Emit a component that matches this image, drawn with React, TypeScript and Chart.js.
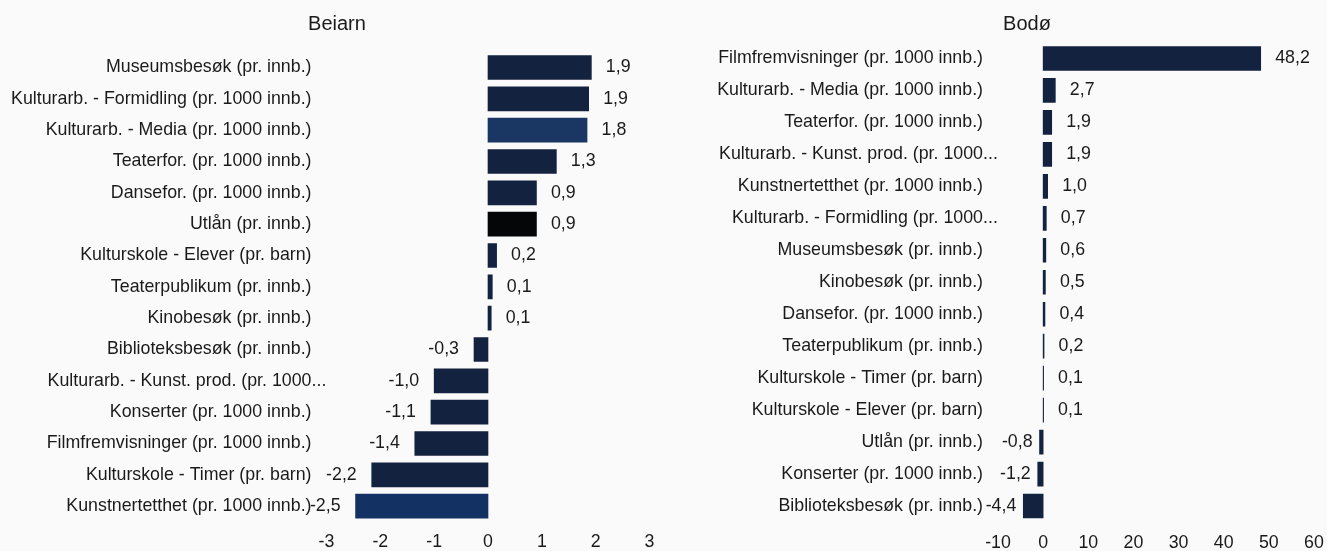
import React, { useEffect, useRef } from "react";
import { Chart, registerables } from "chart.js";

Chart.register(...registerables);

// ---------- DATA ----------
const beiarnTitle = "Beiarn";
const beiarnCategories = [
  "Museumsbesøk (pr. innb.)",
  "Kulturarb. - Formidling (pr. 1000 innb.)",
  "Kulturarb. - Media (pr. 1000 innb.)",
  "Teaterfor. (pr. 1000 innb.)",
  "Dansefor. (pr. 1000 innb.)",
  "Utlån (pr. innb.)",
  "Kulturskole - Elever (pr. barn)",
  "Teaterpublikum (pr. innb.)",
  "Kinobesøk (pr. innb.)",
  "Biblioteksbesøk (pr. innb.)",
  "Kulturarb. - Kunst. prod. (pr. 1000...",
  "Konserter (pr. 1000 innb.)",
  "Filmfremvisninger (pr. 1000 innb.)",
  "Kulturskole - Timer (pr. barn)",
  "Kunstnertetthet (pr. 1000 innb.)",
];
const beiarnValues = [1.92, 1.87, 1.84, 1.27, 0.9, 0.9, 0.16, 0.08, 0.06, -0.26, -1.0, -1.06, -1.36, -2.16, -2.46];
const beiarnTicks = [-3, -2, -1, 0, 1, 2, 3];

const bodoTitle = "Bodø";
const bodoCategories = [
  "Filmfremvisninger (pr. 1000 innb.)",
  "Kulturarb. - Media (pr. 1000 innb.)",
  "Teaterfor. (pr. 1000 innb.)",
  "Kulturarb. - Kunst. prod. (pr. 1000...",
  "Kunstnertetthet (pr. 1000 innb.)",
  "Kulturarb. - Formidling (pr. 1000...",
  "Museumsbesøk (pr. innb.)",
  "Kinobesøk (pr. innb.)",
  "Dansefor. (pr. 1000 innb.)",
  "Teaterpublikum (pr. innb.)",
  "Kulturskole - Timer (pr. barn)",
  "Kulturskole - Elever (pr. barn)",
  "Utlån (pr. innb.)",
  "Konserter (pr. 1000 innb.)",
  "Biblioteksbesøk (pr. innb.)",
];
const bodoValues = [48.2, 2.7, 1.9, 1.9, 1.0, 0.7, 0.6, 0.5, 0.4, 0.2, 0.1, 0.1, -0.8, -1.2, -4.4];
const bodoTicks = [-10, 0, 10, 20, 30, 40, 50, 60];

// ---------- STYLE ----------
const FONT_FAMILY = '"Liberation Sans", Arial, sans-serif';
const FONT_SIZE = 17.8;
const TEXT_COLOR = "#1a1a1a";
const BAR_COLOR = "#13223f";
const BG = "#fafafb";
const Y_TICK_PAD = 15;

const beiarnBarColors = beiarnCategories.map((c) => {
  if (c.startsWith("Utlån")) return "#050608";
  if (c.startsWith("Kulturarb. - Media")) return "#1a3763";
  if (c.startsWith("Kunstnertetthet")) return "#143164";
  return BAR_COLOR;
});
const bodoBarColors = bodoCategories.map(() => BAR_COLOR);

const fmt = (v: number) => v.toFixed(1).replace(".", ",");

function makeValueLabelPlugin(posGap: number, negGap: number) {
  return {
    id: "valueLabels",
    afterDatasetsDraw(chart: any) {
      const ctx = chart.ctx;
      const meta = chart.getDatasetMeta(0);
      const data = chart.data.datasets[0].data as number[];
      ctx.save();
      ctx.font = `${FONT_SIZE}px ${FONT_FAMILY}`;
      ctx.fillStyle = TEXT_COLOR;
      ctx.textBaseline = "middle";
      meta.data.forEach((bar: any, i: number) => {
        const v = data[i];
        const { x, y } = bar.getProps(["x", "y"], true);
        const text = fmt(v);
        if (v >= 0) {
          ctx.textAlign = "left";
          ctx.fillText(text, x + posGap, y);
        } else {
          ctx.textAlign = "right";
          ctx.fillText(text, x - negGap, y);
        }
      });
      // overflowing ellipsis of truncated category labels
      const yScale = chart.scales.y;
      ctx.textAlign = "left";
      (chart.data.labels as string[]).forEach((lab, i) => {
        if (lab.endsWith("...")) {
          ctx.fillText("...", yScale.right - Y_TICK_PAD, yScale.getPixelForValue(i));
        }
      });
      ctx.restore();
    },
  };
}

interface PanelProps {
  title: string;
  categories: string[];
  values: number[];
  colors: string[];
  ticks: number[];
  width: number;
  height: number;
  yWidth: number;
  rightWidth: number;
  titlePadBottom: number;
  xHeight: number;
  posGap: number;
  negGap: number;
}

function Panel(p: PanelProps) {
  const ref = useRef<HTMLCanvasElement | null>(null);
  useEffect(() => {
    if (!ref.current) return;
    const chart = new Chart(ref.current, {
      type: "bar",
      data: {
        labels: p.categories,
        datasets: [
          {
            data: p.values,
            backgroundColor: p.colors,
            borderWidth: 0,
            barThickness: 24,
          },
        ],
      },
      options: {
        indexAxis: "y",
        responsive: false,
        maintainAspectRatio: false,
        animation: false,
        layout: { padding: 0 },
        plugins: {
          legend: { display: false },
          tooltip: { enabled: false },
          title: {
            display: true,
            text: p.title,
            color: TEXT_COLOR,
            font: { family: FONT_FAMILY, size: 20, weight: "normal" as any, lineHeight: 1.2 },
            padding: { top: 12, bottom: p.titlePadBottom },
          },
        },
        scales: {
          x: {
            type: "linear",
            min: p.ticks[0],
            max: p.ticks[p.ticks.length - 1],
            grid: { display: false, drawTicks: false },
            border: { display: false },
            afterBuildTicks: (scale: any) => {
              scale.ticks = p.ticks.map((v) => ({ value: v }));
            },
            afterFit: (scale: any) => {
              scale.height = p.xHeight;
            },
            ticks: {
              autoSkip: false,
              maxRotation: 0,
              padding: 10,
              color: TEXT_COLOR,
              font: { family: FONT_FAMILY, size: FONT_SIZE },
              callback: (v: any) => String(v),
            },
          },
          y: {
            type: "category",
            grid: { display: false, drawTicks: false },
            border: { display: false },
            afterFit: (scale: any) => {
              scale.width = p.yWidth;
            },
            ticks: {
              autoSkip: false,
              padding: Y_TICK_PAD,
              color: TEXT_COLOR,
              font: { family: FONT_FAMILY, size: FONT_SIZE },
              callback: function (this: any, _v: any, i: number) {
                const lab = p.categories[i];
                return lab.endsWith("...") ? lab.slice(0, -3) : lab;
              },
            },
          },
          // empty spacer on the right (reserves room so the title centres like the original)
          yr: {
            type: "linear",
            position: "right",
            axis: "y",
            grid: { display: false, drawTicks: false },
            border: { display: false },
            ticks: { display: false },
            afterFit: (scale: any) => {
              scale.width = p.rightWidth;
            },
          },
        },
      },
      plugins: [makeValueLabelPlugin(p.posGap, p.negGap)],
    } as any);
    return () => chart.destroy();
  }, []);
  return <canvas ref={ref} width={p.width} height={p.height} style={{ display: "block" }} />;
}

export default function App() {
  return (
    <div
      style={{
        position: "absolute",
        left: 0,
        top: 0,
        width: 1327,
        height: 551,
        background: BG,
        overflow: "hidden",
      }}
    >
      <div style={{ position: "absolute", left: 0, top: 0 }}>
        <Panel
          title={beiarnTitle}
          categories={beiarnCategories}
          values={beiarnValues}
          colors={beiarnBarColors}
          ticks={beiarnTicks}
          width={674}
          height={551}
          yWidth={326.5}
          rightWidth={24.5}
          titlePadBottom={15.8}
          xHeight={29.2}
          posGap={14.5}
          negGap={15}
        />
      </div>
      <div style={{ position: "absolute", left: 660, top: 0 }}>
        <Panel
          title={bodoTitle}
          categories={bodoCategories}
          values={bodoValues}
          colors={bodoBarColors}
          ticks={bodoTicks}
          width={734}
          height={551}
          yWidth={338}
          rightWidth={80}
          titlePadBottom={6.5}
          xHeight={29}
          posGap={14.5}
          negGap={7}
        />
      </div>
    </div>
  );
}
